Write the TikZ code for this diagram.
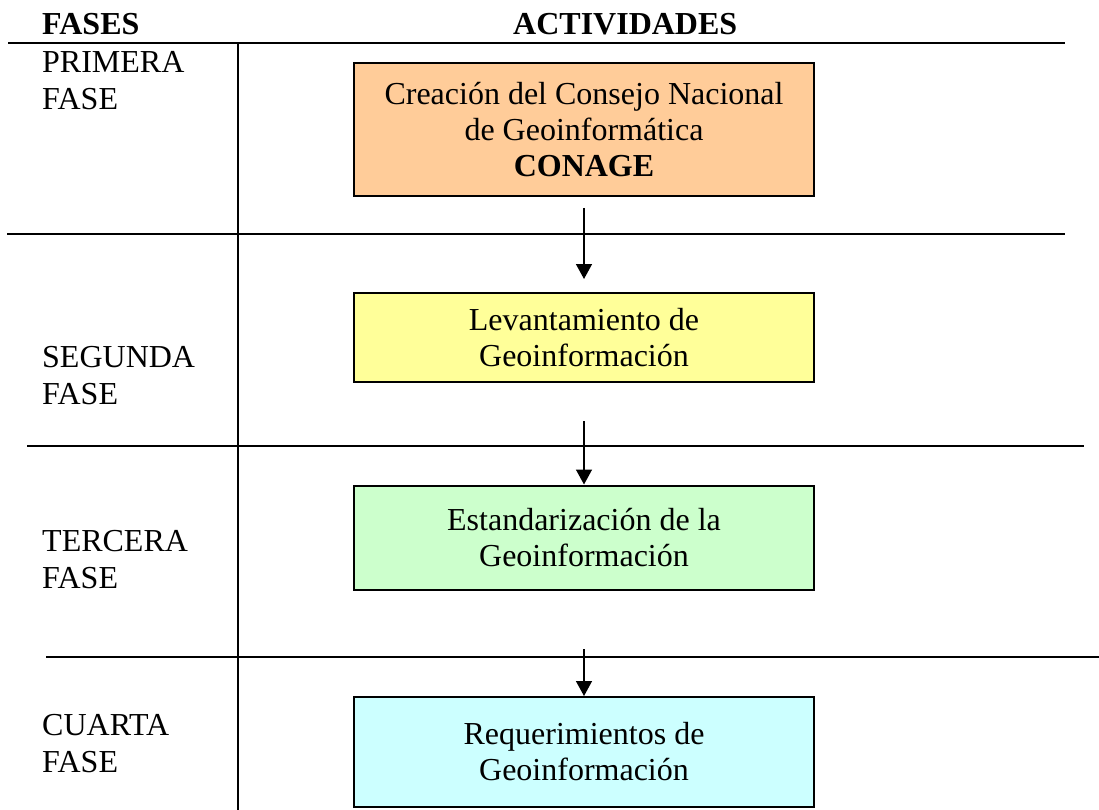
\documentclass[tikz,border=0pt]{standalone}
\usepackage{fontspec}
\setmainfont{Liberation Serif}
\usetikzlibrary{arrows.meta}
\definecolor{naranja}{HTML}{FFCC99}
\definecolor{amarillo}{HTML}{FFFF99}
\definecolor{verde}{HTML}{CCFFCC}
\definecolor{celeste}{HTML}{CCFFFF}
\tikzset{
  actividad/.style={shape=rectangle,draw,line width=2pt,minimum width=460pt,inner sep=0pt,align=center,font=\fontsize{32}{36}\selectfont},
  fase/.style={anchor=base west,align=left,inner sep=0pt,font=\fontsize{32}{37}\selectfont},
  titulo/.style={anchor=base west,inner sep=0pt,font=\fontsize{32}{37}\selectfont\bfseries},
  flecha/.style={line width=1.5pt,-{Triangle[length=15pt,width=16pt]}},
  regla/.style={line width=2pt}
}
\begin{document}
\begin{tikzpicture}[x=1pt,y=-1pt]
\useasboundingbox (0,0) rectangle (1099,810);
% cabecera
\node(fases) at (42,35)[titulo]        {FASES};
\node(actividades) at (513,35)[titulo] {ACTIVIDADES};

% reglas de la tabla
\draw[regla] (8,43) -- (1065,43);
\draw[regla] (238,43) -- (238,810);
\draw[regla] (7,234) -- (1065,234);
\draw[regla] (27,446) -- (1084,446);
\draw[regla] (46,657) -- (1099,657);

% fases (base = ultima linea)
\node(primera) at (42,110)[fase] {PRIMERA\\FASE};
\node(segunda) at (42,404)[fase] {SEGUNDA\\FASE};
\node(tercera) at (42,588)[fase] {TERCERA\\FASE};
\node(cuarta) at (42,772)[fase]  {CUARTA\\FASE};

% actividades
\node(conage) at (584,129.5)[actividad,fill=naranja,minimum height=133pt]
  {Creación del Consejo Nacional\\de Geoinformática\\\textbf{CONAGE}};
\node(levantamiento) at (584,337.5)[actividad,fill=amarillo,minimum height=89pt]
  {Levantamiento de\\Geoinformación};
\node(estandarizacion) at (584,537.5)[actividad,fill=verde,minimum height=104pt]
  {Estandarización de la\\Geoinformación};
\node(requerimientos) at (584,752)[actividad,fill=celeste,minimum height=110pt]
  {Requerimientos de\\Geoinformación};

\coordinate(c1) at (584,208);
\coordinate(c2) at (584,421);
\coordinate(c3) at (584,649);

\path [flecha]
  (c1)      edge      ([yshift=13pt]levantamiento.north)
  (c2)      edge      (estandarizacion.north)
  (c3)      edge      (requerimientos.north);
\end{tikzpicture}
\end{document}
